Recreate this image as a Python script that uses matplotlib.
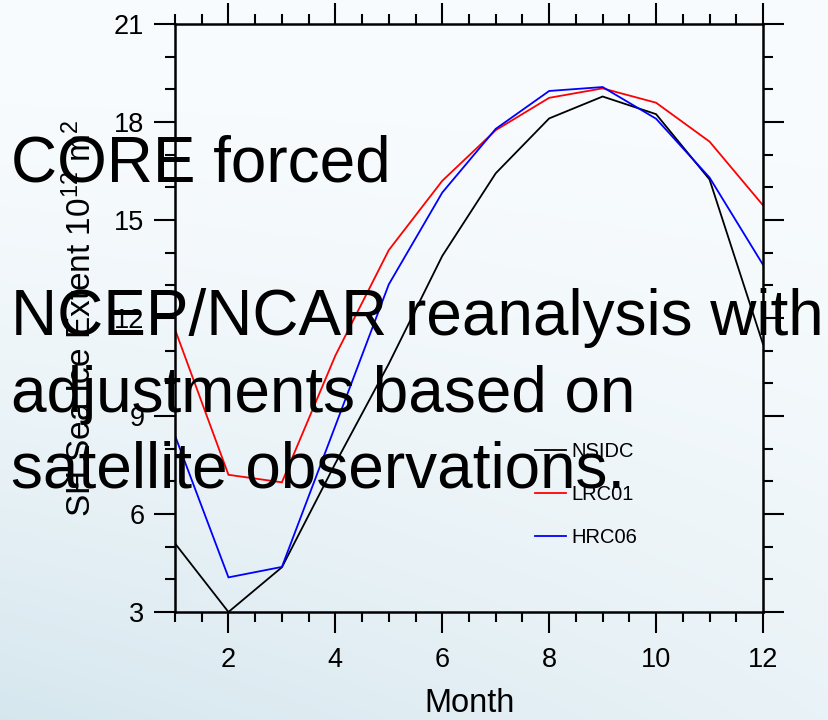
import numpy as np
import matplotlib
matplotlib.use("Agg")
import matplotlib.pyplot as plt
from matplotlib.ticker import MultipleLocator

plt.rcParams['font.family'] = ['Liberation Sans', 'DejaVu Sans']
plt.rcParams['mathtext.fontset'] = 'custom'
plt.rcParams['mathtext.rm'] = 'Liberation Sans'
plt.rcParams['mathtext.it'] = 'Liberation Sans:italic'
plt.rcParams['mathtext.bf'] = 'Liberation Sans:bold'

# ---- data ----
months = [1, 2, 3, 4, 5, 6, 7, 8, 9, 10, 11, 12]
nsidc = [5.1, 3.0, 4.37, 7.55, 10.6, 13.9, 16.43, 18.11, 18.78, 18.24, 16.24, 11.2]
lrc01 = [11.65, 7.2, 6.97, 10.85, 14.08, 16.2, 17.75, 18.74, 19.03, 18.59, 17.4, 15.45]
hrc06 = [8.4, 4.06, 4.38, 8.7, 13.03, 15.84, 17.79, 18.95, 19.07, 18.1, 16.3, 13.63]
series_names = ["NSIDC", "LRC01", "HRC06"]
series_colors = ["black", "red", "blue"]
x_ticks = [2, 4, 6, 8, 10, 12]
y_ticks = [3, 6, 9, 12, 15, 18, 21]
overlay_title = "CORE forced"
overlay_lines = ["NCEP/NCAR reanalysis with", "adjustments based on", "satellite observations."]

W, H = 829, 720
fig = plt.figure(figsize=(W / 100, H / 100), dpi=100)

# background gradient
bg = fig.add_axes([0, 0, 1, 1], zorder=-10)
yy, xx = np.mgrid[0:1:200j, 0:1:200j]
t = np.clip((yy ** 1.6) * (1.0 - 0.55 * xx), 0, 1)
light = np.array([0.975, 0.988, 0.995])
dark = np.array([0.84, 0.905, 0.935])
img = light[None, None, :] * (1 - t[..., None]) + dark[None, None, :] * t[..., None]
bg.imshow(img, aspect='auto', extent=[0, 1, 1, 0], interpolation='bilinear')
bg.set_xlim(0, 1)
bg.set_ylim(1, 0)
bg.axis('off')

left, right = 175 / W, 763 / W
top, bottom = 1 - 24 / H, 1 - 612 / H
ax = fig.add_axes([left, bottom, right - left, top - bottom])
ax.patch.set_alpha(0)

for vals, name, col in zip([nsidc, lrc01, hrc06], series_names, series_colors):
    ax.plot(months, vals, color=col, lw=1.3, label=name, solid_joinstyle='miter')

ax.set_xlim(1, 12)
ax.set_ylim(3, 21)
ax.set_xticks(x_ticks)
ax.set_yticks(y_ticks)
ax.xaxis.set_minor_locator(MultipleLocator(0.5))
ax.yaxis.set_minor_locator(MultipleLocator(1))
ax.tick_params(which='both', direction='out', top=True, right=True,
               labeltop=False, labelright=False, width=1.5, colors='black')
ax.tick_params(which='major', length=15)
ax.tick_params(which='minor', length=7)
ax.tick_params(axis='x', which='major', labelsize=19.5, pad=10)
ax.tick_params(axis='y', which='major', labelsize=19.5, pad=7)
for s in ax.spines.values():
    s.set_linewidth(1.8)

leg = ax.legend(loc='upper left', bbox_to_anchor=(535 / W, 1 - 442 / H),
                bbox_transform=fig.transFigure, frameon=False, fontsize=14.5,
                handlelength=1.55, handletextpad=0.25, labelspacing=1.2,
                borderpad=0, borderaxespad=0)

fig.text(81 / W, 1 - 318 / H, "SH Sea Ice Extent 10$^{12}$ m$^{2}$",
         rotation=90, ha='center', va='center', fontsize=24)
fig.text(470 / W, 1 - 704 / H, "Month", ha='center', va='center', fontsize=23.5)

fig.text(11 / W, 1 - 182 / H, overlay_title, ha='left', va='baseline', fontsize=46)
for line, base in zip(overlay_lines, [335, 412, 488]):
    fig.text(11 / W, 1 - base / H, line, ha='left', va='baseline', fontsize=46)

fig.savefig("out.png", dpi=100)
